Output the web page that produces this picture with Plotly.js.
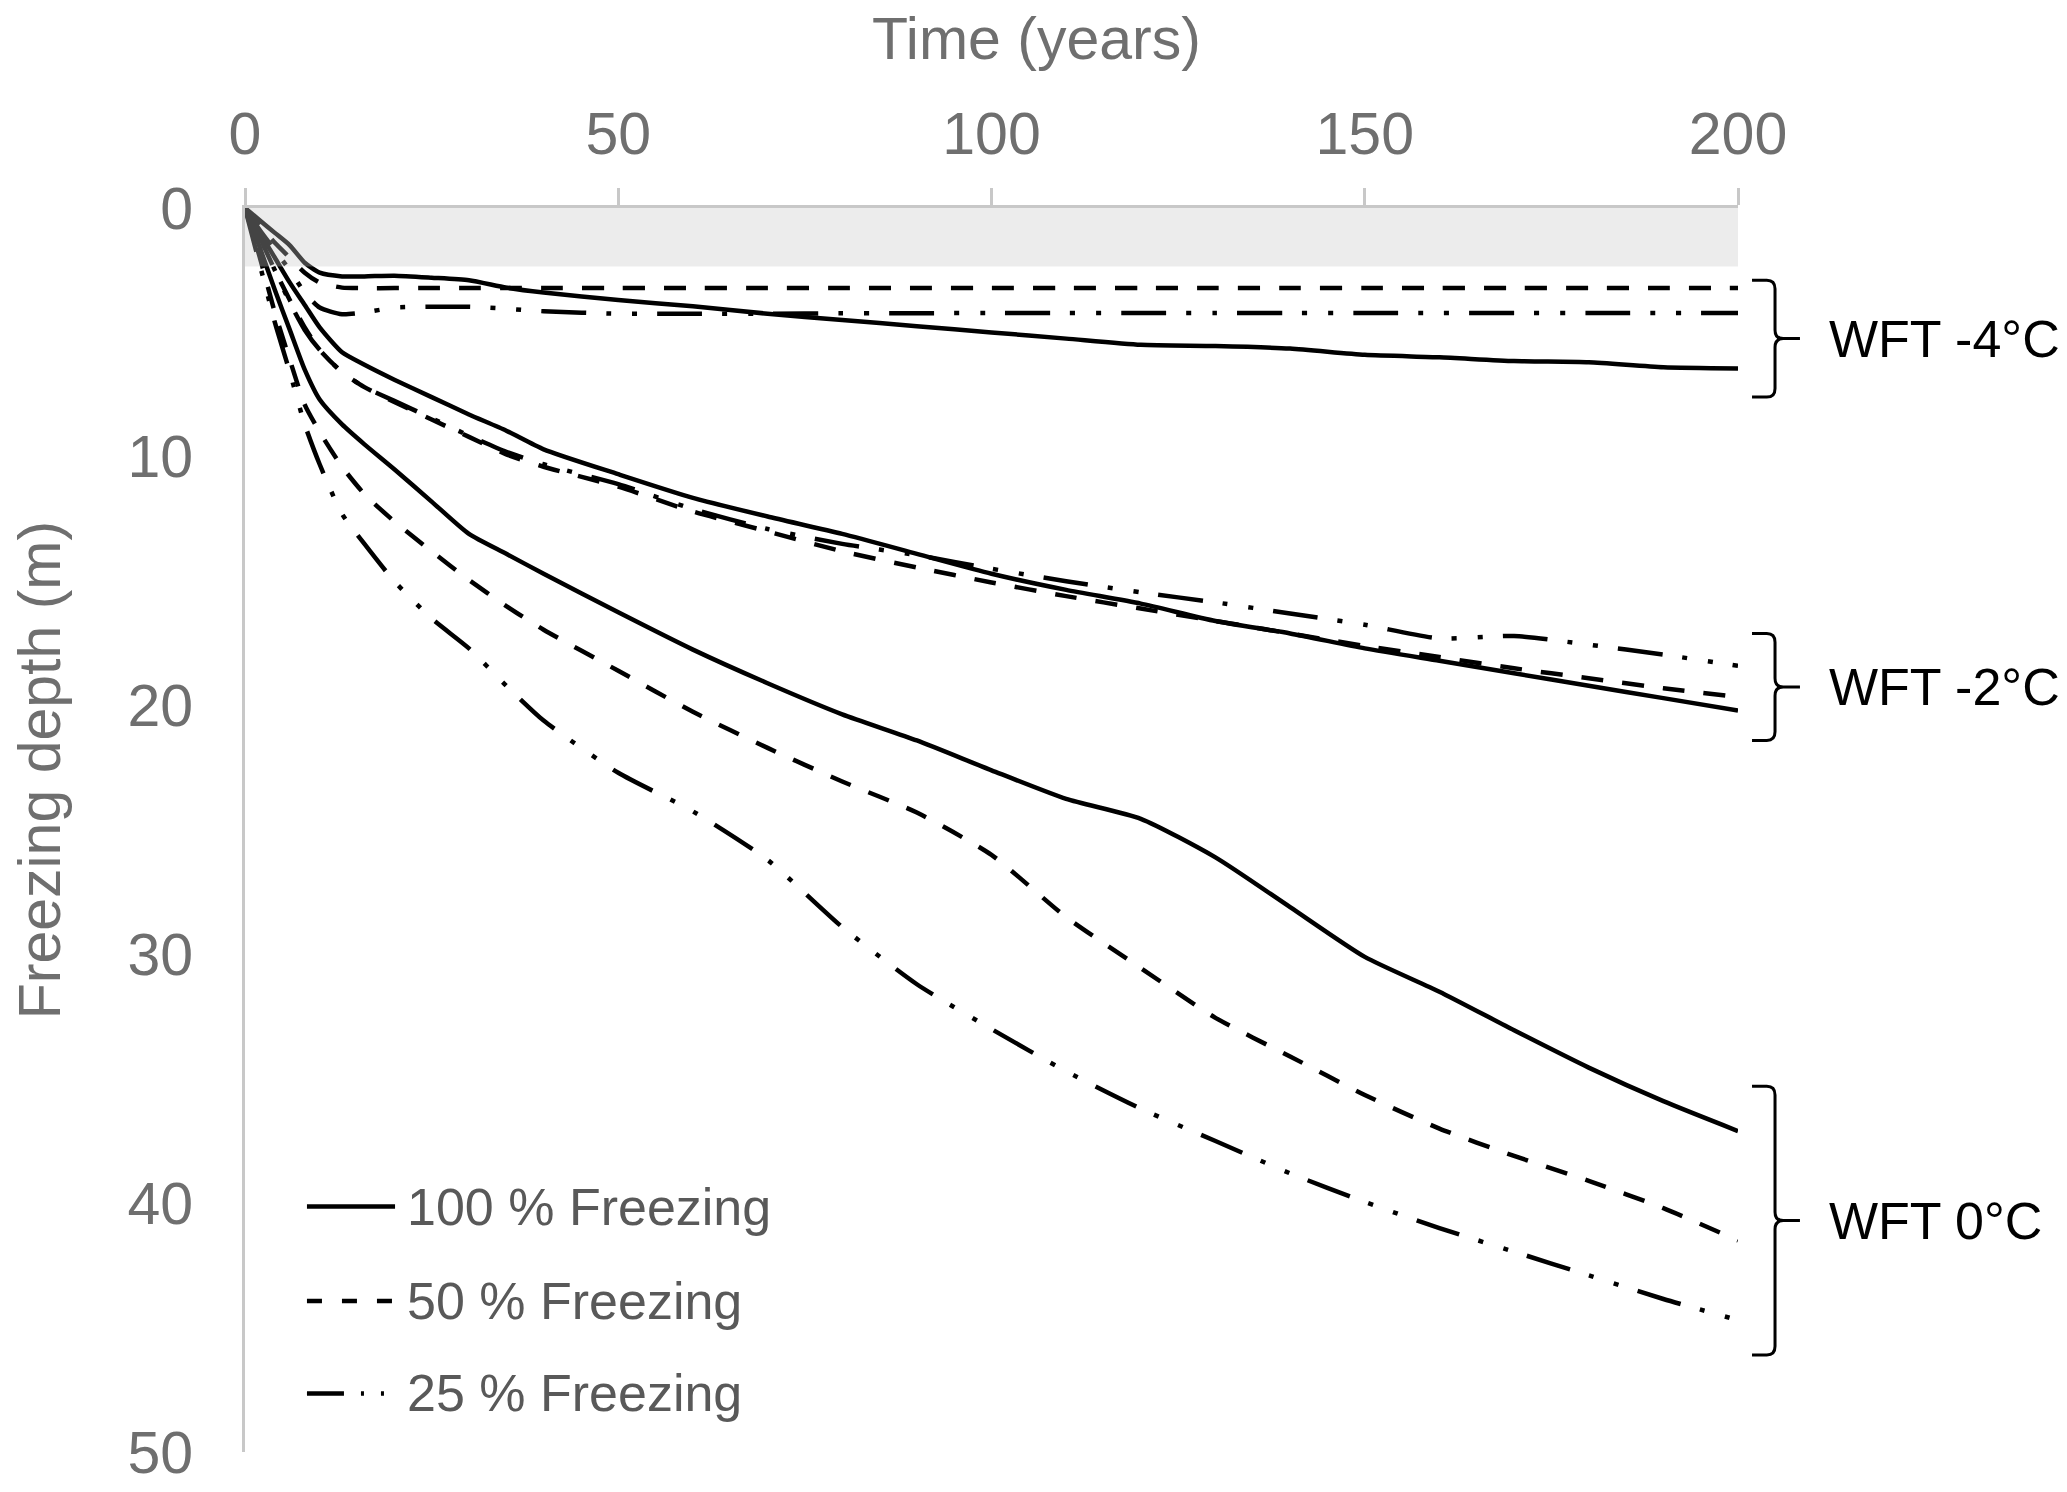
<!DOCTYPE html>
<html>
<head>
<meta charset="utf-8">
<script src="https://cdn.plot.ly/plotly-3.0.1.min.js"></script>
<style>
  body { margin: 0; background: #fff; }
  #chart { width: 2067px; height: 1492px; }
</style>
</head>
<body>
<div id="chart"></div>
<script>
// time axis shared by every curve (years)
const years = [0, 2, 4, 6, 8, 10, 13, 16, 20, 25, 30, 35, 40, 50, 60, 70, 80, 90, 100, 110, 120, 130, 140, 150, 160, 170, 180, 190, 200];

// freezing depth (m), WFT -4 C
const wft4_100 = [0, 0.5, 1.0, 1.5, 2.2, 2.6, 2.75, 2.75, 2.72, 2.8, 2.9, 3.2, 3.4, 3.7, 3.95, 4.25, 4.5, 4.75, 5.0, 5.25, 5.5, 5.55, 5.65, 5.9, 6.0, 6.15, 6.2, 6.4, 6.45];
const wft4_50 = [0, 0.7, 1.4, 2.0, 2.6, 3.0, 3.2, 3.22, 3.22, 3.22, 3.22, 3.22, 3.22, 3.22, 3.22, 3.22, 3.22, 3.22, 3.22, 3.22, 3.22, 3.22, 3.22, 3.22, 3.22, 3.22, 3.22, 3.22, 3.22];
const wft4_25 = [0, 0.9, 1.7, 2.5, 3.4, 4.0, 4.27, 4.2, 4.0, 3.97, 3.97, 4.05, 4.15, 4.25, 4.25, 4.25, 4.23, 4.23, 4.22, 4.22, 4.22, 4.22, 4.22, 4.22, 4.22, 4.22, 4.22, 4.22, 4.22];

// WFT -2 C
const wft2_100 = [0, 1.0, 2.0, 3.0, 3.9, 4.8, 5.8, 6.3, 6.9, 7.6, 8.3, 8.95, 9.7, 10.7, 11.65, 12.4, 13.1, 13.9, 14.7, 15.35, 15.9, 16.6, 17.1, 17.7, 18.2, 18.7, 19.2, 19.7, 20.2];
const wft2_50 = [0, 1.2, 2.5, 3.7, 4.8, 5.7, 6.6, 7.2, 7.8, 8.5, 9.2, 9.9, 10.4, 11.2, 12.2, 13.0, 13.8, 14.45, 15.05, 15.6, 16.1, 16.6, 17.1, 17.6, 18.05, 18.5, 18.9, 19.3, 19.65];
const wft2_25 = [0, 1.2, 2.5, 3.8, 4.9, 5.7, 6.6, 7.2, 7.75, 8.45, 9.15, 9.8, 10.3, 11.1, 12.1, 12.9, 13.5, 13.95, 14.5, 15.0, 15.45, 15.85, 16.3, 16.75, 17.3, 17.2, 17.55, 17.95, 18.4];

// WFT 0 C
const wft0_100 = [0, 1.6, 3.3, 4.9, 6.5, 7.7, 8.7, 9.5, 10.5, 11.8, 13.1, 13.9, 14.7, 16.25, 17.75, 19.1, 20.35, 21.4, 22.6, 23.75, 24.55, 26.1, 28.1, 30.1, 31.5, 33.05, 34.55, 35.9, 37.1];
const wft0_50 = [0, 2.0, 4.2, 6.1, 7.9, 9.0, 10.4, 11.5, 12.6, 13.8, 14.95, 16.0, 16.95, 18.6, 20.25, 21.7, 23.05, 24.3, 26.0, 28.5, 30.55, 32.55, 34.1, 35.65, 37.0, 38.1, 39.1, 40.2, 41.5];
const wft0_25 = [0, 2.3, 4.6, 6.6, 8.7, 10.3, 12.3, 13.5, 15.0, 16.5, 17.7, 19.2, 20.6, 22.7, 24.25, 26.2, 28.9, 31.2, 33.0, 34.7, 36.2, 37.5, 38.8, 39.95, 41.0, 41.95, 42.9, 43.85, 44.7];

const legendNames = ['100 % Freezing', '50 % Freezing', '25 % Freezing'];
const wftLabels = ['WFT -4°C', 'WFT -2°C', 'WFT 0°C'];
// top, bottom of each bracket (m)
const braceTop = [2.9, 17.1, 35.3];
const braceBottom = [7.6, 21.4, 46.1];
const frozenCap = 2.35; // grey band depth
const depthTicks = [0, 10, 20, 30, 40, 50];

const groups = [
    [wft4_100, wft4_50, wft4_25],
    [wft2_100, wft2_50, wft2_25],
    [wft0_100, wft0_50, wft0_25]
];
const dashes = ['solid', '22px,19px', '45px,20px,5px,21px,5px,20px'];
const legendDashes = ['solid', '15px,20px', '37px,17px,3px,17px,3px,20px'];

const FONT = 'Liberation Sans, Arial, sans-serif';
const GREY = '#6f6f6f';

let traces = [];
groups.forEach(function (grp, g) {
    grp.forEach(function (vals, k) {
        traces.push({
            x: years,
            y: vals,
            type: 'scatter',
            mode: 'lines',
            name: legendNames[k] + ', ' + wftLabels[g],
            showlegend: false,
            line: { color: '#000', width: 4.5, dash: dashes[k], shape: 'spline', smoothing: 0.6 },
            hoverinfo: 'skip'
        });
    });
});

// curly bracket drawn as a path: x in paper units, y in depth
function bracePath(top, bot) {
    const x1 = 1.0094, xv = 1.0248, xt = 1.0415, rh = 0.0055, rv = 0.35;
    const mid = (top + bot) / 2;
    return 'M' + x1 + ',' + top +
        ' L' + (xv - rh) + ',' + top +
        ' Q' + xv + ',' + top + ' ' + xv + ',' + (top + rv) +
        ' L' + xv + ',' + (mid - rv) +
        ' Q' + xv + ',' + mid + ' ' + (xv + rh) + ',' + mid +
        ' L' + xt + ',' + mid +
        ' M' + (xv + rh) + ',' + mid +
        ' Q' + xv + ',' + mid + ' ' + xv + ',' + (mid + rv) +
        ' L' + xv + ',' + (bot - rv) +
        ' Q' + xv + ',' + bot + ' ' + (xv - rh) + ',' + bot +
        ' L' + x1 + ',' + bot;
}

let shapes = [{
    type: 'rect', xref: 'x', yref: 'y',
    x0: 0, x1: 200, y0: 0, y1: frozenCap,
    fillcolor: 'rgba(200,200,200,0.34)',
    line: { width: 0 },
    layer: 'above'
}];
let annotations = [];
wftLabels.forEach(function (label, i) {
    shapes.push({
        type: 'path', xref: 'paper', yref: 'y',
        path: bracePath(braceTop[i], braceBottom[i]),
        line: { color: '#000', width: 3 }
    });
    annotations.push({
        xref: 'paper', yref: 'y',
        x: 1.0596, y: (braceTop[i] + braceBottom[i]) / 2,
        xanchor: 'left', yanchor: 'middle',
        text: label,
        showarrow: false,
        font: { family: FONT, size: 52, color: '#000' }
    });
});

// legend drawn by hand so the sample lines are as long as in the original
const legendRowY = [0.1973, 0.1214, 0.0471];
legendNames.forEach(function (name, k) {
    shapes.push({
        type: 'line', xref: 'paper', yref: 'paper',
        x0: 0.0415, x1: 0.1005, y0: legendRowY[k], y1: legendRowY[k],
        line: { color: '#000', width: 4.5, dash: legendDashes[k] }
    });
    annotations.push({
        xref: 'paper', yref: 'paper',
        x: 0.1072, y: legendRowY[k],
        xanchor: 'left', yanchor: 'middle',
        text: name, showarrow: false,
        font: { family: FONT, size: 52, color: '#595959' }
    });
});

// axis titles placed like the original
annotations.push({
    xref: 'paper', yref: 'paper',
    x: 0.530, y: 1.136,
    xanchor: 'center', yanchor: 'middle',
    text: 'Time (years)', showarrow: false,
    font: { family: FONT, size: 59, color: GREY }
});
annotations.push({
    xref: 'paper', yref: 'y',
    x: -0.1373, y: 22.6,
    xanchor: 'center', yanchor: 'middle',
    text: 'Freezing depth (m)', textangle: -90, showarrow: false,
    font: { family: FONT, size: 59, color: GREY }
});

const layout = {
    width: 2067,
    height: 1492,
    margin: { l: 245, r: 329, t: 208, b: 40 },
    paper_bgcolor: '#fff',
    plot_bgcolor: '#fff',
    font: { family: FONT, color: GREY },
    showlegend: false,
    xaxis: {
        side: 'top',
        range: [0, 200],
        dtick: 50,
        showgrid: false,
        zeroline: false,
        showline: true,
        linecolor: '#c8c8c8',
        linewidth: 3,
        ticks: 'outside',
        ticklen: 17,
        tickwidth: 3,
        tickcolor: '#c8c8c8',
        ticklabelstandoff: 10,
        tickfont: { family: FONT, size: 59, color: GREY }
    },
    yaxis: {
        range: [50, 0],
        tickmode: 'array',
        tickvals: depthTicks,
        ticktext: depthTicks.map(String),
        ticklabeloverflow: 'allow',
        showgrid: false,
        zeroline: false,
        showline: true,
        linecolor: '#c8c8c8',
        linewidth: 3,
        ticks: '',
        ticklabelstandoff: 37,
        tickfont: { family: FONT, size: 59, color: GREY }
    },
    shapes: shapes,
    annotations: annotations
};

Plotly.newPlot('chart', traces, layout, { displayModeBar: false, staticPlot: true });
</script>
</body>
</html>
